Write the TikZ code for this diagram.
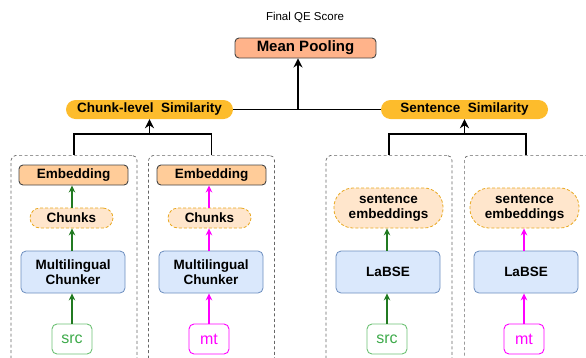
\documentclass[tikz,border=0pt]{standalone}
\usepackage{fontspec}
\setmainfont{Liberation Sans}
\usetikzlibrary{arrows.meta}
\definecolor{salmon}{HTML}{FFB38A}
\definecolor{embfill}{HTML}{FFCC99}
\definecolor{simfill}{HTML}{FDBC2C}
\definecolor{chfill}{HTML}{FFE6CC}
\definecolor{chdraw}{HTML}{E8A820}
\definecolor{mcfill}{HTML}{DAE8FC}
\definecolor{mcdraw}{HTML}{6C8EBF}
\definecolor{boxgray}{HTML}{666666}
\definecolor{darkgreen}{HTML}{217A21}
\definecolor{srcgreen}{HTML}{3DAA4A}
\definecolor{srcborder}{HTML}{6DC174}
\definecolor{mag}{HTML}{FF00FF}
\definecolor{nodeborder}{HTML}{444444}
\tikzset{
  bold/.style={font=\fontsize{13.5}{15.5}\selectfont\bfseries, align=center, inner sep=0pt},
  meanbox/.style={bold, font=\fontsize{15}{17}\selectfont\bfseries, draw=nodeborder, fill=salmon, rounded corners=4pt, line width=0.9pt},
  embbox/.style={bold, draw=nodeborder, fill=embfill, rounded corners=4pt, line width=0.9pt, minimum width=109pt, minimum height=20pt},
  simbox/.style={bold, fill=simfill, rounded corners=9.5pt, minimum width=167pt, minimum height=19pt},
  chbox/.style={bold, draw=chdraw, dashed, fill=chfill, line width=0.8pt, dash pattern=on 3pt off 2pt},
  mcbox/.style={bold, draw=mcdraw, fill=mcfill, rounded corners=5pt, line width=0.8pt, minimum width=104pt, minimum height=42pt},
  srcbox/.style={font=\fontsize{16}{18}\selectfont, draw=srcborder, text=srcgreen, rounded corners=5pt, line width=0.9pt, minimum width=40pt, minimum height=30pt, inner sep=0pt},
  mtbox/.style={font=\fontsize{16}{18}\selectfont, draw=mag, text=mag, rounded corners=5pt, line width=0.9pt, minimum width=40pt, minimum height=30pt, inner sep=0pt},
  container/.style={draw=boxgray, dashed, dash pattern=on 3pt off 2.5pt, rounded corners=5pt, line width=0.7pt, minimum width=126pt, minimum height=230pt, inner sep=0pt},
  blk/.style={line width=1.8pt, black},
  blkarrow/.style={line width=1.8pt, black, -{Stealth[length=9pt,width=9pt]}},
  garrow/.style={line width=1.2pt, darkgreen, -{Stealth[length=7pt,width=6.5pt]}},
  marrow/.style={line width=1.2pt, mag, -{Stealth[length=7pt,width=6.5pt]}},
}
\begin{document}
\begin{tikzpicture}[x=1pt,y=-1pt]
\useasboundingbox (0,0) rectangle (586,357);

% containers (clipped)
\begin{scope}
\clip (0,0) rectangle (586,357);
\node[container, anchor=north] (c1) at (74,155) {};
\node[container, anchor=north] (c2) at (211.5,155) {};
\node[container, anchor=north] (c3) at (389,155) {};
\node[container, anchor=north west, minimum width=140pt] (c4) at (464,155) {};
\end{scope}
\coordinate (c4top) at (526,155);

% top
\node[font=\fontsize{11.5}{13}\selectfont, inner sep=0pt] (title) at (305,17) {Final QE Score};
\node[meanbox, minimum width=141pt, minimum height=20pt] (mp) at (305.5,48) {Mean Pooling};
\node[simbox] (cs) at (149.5,109.5) {Chunk-level\ \ Similarity};
\node[simbox] (ss) at (464.5,109.5) {Sentence\ \ Similarity};

% column 1
\node[embbox] (e1) at (73.5,175) {Embedding};
\node[chbox, rounded corners=10pt, minimum width=83pt, minimum height=20pt] (ch1) at (71.5,218) {Chunks};
\node[mcbox] (m1) at (73,272) {Multilingual\\Chunker};
\node[srcbox] (s1) at (72,339) {src};

% column 2
\node[embbox] (e2) at (211.5,175) {Embedding};
\node[chbox, rounded corners=10pt, minimum width=83pt, minimum height=20pt] (ch2) at (209.5,218) {Chunks};
\node[mcbox] (m2) at (211,272) {Multilingual\\Chunker};
\node[mtbox] (s2) at (209,339) {mt};

% column 3
\node[chbox, rounded corners=19pt, minimum width=109pt, minimum height=40pt] (se3) at (388.5,208) {sentence\\embeddings};
\node[mcbox] (l3) at (388,272) {LaBSE};
\node[srcbox] (s3) at (387,339) {src};

% column 4
\node[chbox, rounded corners=19pt, minimum width=109pt, minimum height=40pt] (se4) at (524.5,208) {sentence\\embeddings};
\node[mcbox] (l4) at (526,272) {LaBSE};
\node[mtbox] (s4) at (524,339) {mt};

% colored arrows
\draw[garrow] (s1.north) -- (s1.north |- m1.south);
\draw[garrow] (s1.north |- m1.north) -- (s1.north |- ch1.south);
\draw[garrow] (s1.north |- ch1.north) -- (s1.north |- e1.south);
\draw[marrow] (s2.north) -- (s2.north |- m2.south);
\draw[marrow] (s2.north |- m2.north) -- (s2.north |- ch2.south);
\draw[marrow] (s2.north |- ch2.north) -- (s2.north |- e2.south);
\draw[garrow] (s3.north) -- (s3.north |- l3.south);
\draw[garrow] (s3.north |- l3.north) -- (s3.north |- se3.south);
\draw[marrow] (s4.north) -- (s4.north |- l4.south);
\draw[marrow] (s4.north |- l4.north) -- (s4.north |- se4.south);

% brackets
\coordinate (hl) at (0,134);
\draw[blk] (c1.north) -- (c1.north |- hl) -- (c2.north |- hl) -- (c2.north);
\draw[blkarrow] (cs.south |- hl) -- (cs.south);
\draw[blk] (c3.north) -- (c3.north |- hl) -- (c4top |- hl) -- (c4top);
\draw[blkarrow] (ss.south |- hl) -- (ss.south);

% to mean pooling
\coordinate (jm) at (298,109.5);
\draw[blk] (cs.east) -- (ss.west);
\draw[blkarrow] (jm) -- (jm |- mp.south);
\end{tikzpicture}
\end{document}
